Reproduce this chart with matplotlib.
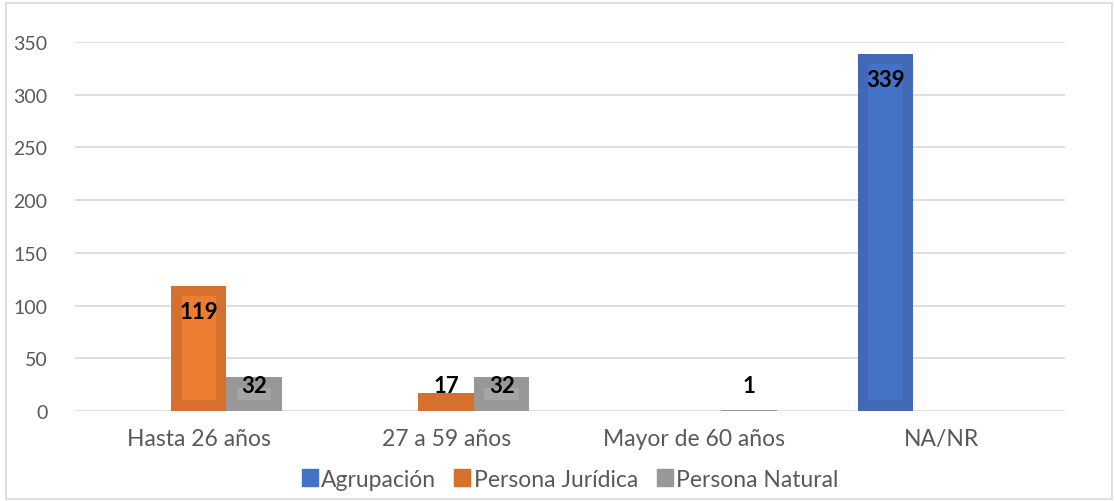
import matplotlib.pyplot as plt
import numpy as np
from matplotlib.patches import Patch, Rectangle

# datos
categorias = ["Hasta 26 años", "27 a 59 años", "Mayor de 60 años", "NA/NR"]
agrupacion = [0, 0, 0, 339]
persona_juridica = [119, 17, 0, 0]
persona_natural = [32, 32, 1, 0]
series_nombres = ["Agrupación", "Persona Jurídica", "Persona Natural"]

plt.rcParams["font.family"] = ["Lato", "DejaVu Sans"]

color_borde = ["#4169B5", "#D6702D", "#989898"]
color_interior = ["#4472C4", "#ED7D31", "#A5A5A5"]
color_texto = "#595959"

fig = plt.figure(figsize=(11.15, 5.02), dpi=100)
ax = fig.add_axes([0.0673, 0.1793, 0.8877, 0.735])
fig.patches.append(Rectangle((0.005, 0.004), 0.992, 0.988, transform=fig.transFigure,
                             fill=False, edgecolor="#D9D9D9", linewidth=1.2))

x = np.arange(len(categorias))
ancho = 0.224
inset = 10  # borde interior en unidades de datos

for i, valores in enumerate([agrupacion, persona_juridica, persona_natural]):
    pos = x + (i - 1) * ancho
    ax.bar(pos, valores, width=ancho, color=color_borde[i], zorder=2)
    alto_int = np.array(valores) - 2 * inset
    mask = alto_int > 0
    ax.bar(pos[mask], alto_int[mask], bottom=inset, width=ancho * 0.62,
           color=color_interior[i], zorder=3)
    for p, v in zip(pos, valores):
        if v > 0:
            ax.text(p, max(v - 25, 24), str(v), ha="center", va="center",
                    fontsize=16, fontweight="bold", color="black", zorder=4)

ax.set_xlim(-0.5, len(categorias) - 0.5)
ax.set_ylim(0, 350)
ax.set_yticks(np.arange(0, 351, 50))
ax.set_xticks(x)
ax.set_xticklabels(categorias)
ax.tick_params(axis="both", length=0, colors=color_texto)
ax.tick_params(axis="y", pad=20, labelsize=14)
ax.tick_params(axis="x", pad=12, labelsize=16.5)
ax.grid(axis="y", color="#D9D9D9", linewidth=1.2, zorder=0)
ax.set_axisbelow(True)
for s in ax.spines.values():
    s.set_visible(False)

handles = [Patch(color=color_interior[0]), Patch(color=color_borde[1]), Patch(color=color_borde[2])]
ax.legend(handles, series_nombres, loc="upper center", bbox_to_anchor=(0.5, -0.1),
          ncol=3, frameon=False, fontsize=16.5, handlelength=0.7, handleheight=0.7,
          handletextpad=0.15, columnspacing=0.8, labelcolor=color_texto)

fig.savefig("out.png", dpi=100)
